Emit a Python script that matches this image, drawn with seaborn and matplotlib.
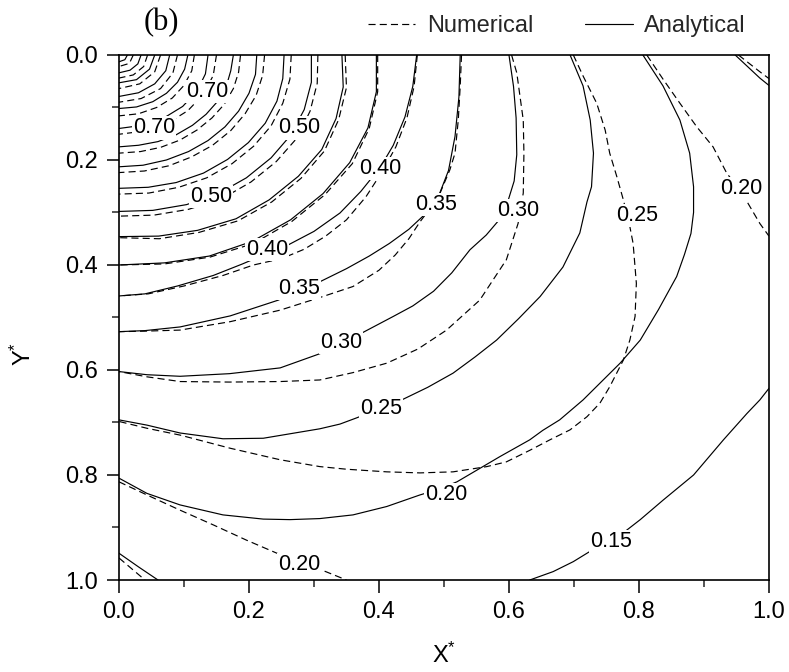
import matplotlib
matplotlib.use("Agg")
import matplotlib.pyplot as plt
from matplotlib.lines import Line2D
from matplotlib.ticker import MultipleLocator, FormatStrFormatter
import seaborn as sns

# ---------------------------------------------------------------
# Isolines of the dimensionless field over X*, Y* (Y* grows downward)
# Analytical solution (solid lines)
# ---------------------------------------------------------------
ana_95_x = [0.013, 0.009, 0.0]
ana_95_y = [0.0, 0.009, 0.013]
ana_90_x = [0.034, 0.029, 0.017, 0.0]
ana_90_y = [0.0, 0.017, 0.029, 0.034]
ana_85_x = [0.055, 0.047, 0.027, 0.0]
ana_85_y = [0.0, 0.027, 0.047, 0.053]
ana_80_x = [0.078, 0.072, 0.055, 0.030, 0.0]
ana_80_y = [0.0, 0.030, 0.055, 0.072, 0.079]
ana_75_x = [0.106, 0.101, 0.090, 0.073, 0.052, 0.027, 0.0]
ana_75_y = [0.0, 0.027, 0.052, 0.073, 0.089, 0.099, 0.102]
ana_70_x = [0.137, 0.133, 0.120, 0.098, 0.069, 0.036, 0.0]
ana_70_y = [0.0, 0.036, 0.069, 0.098, 0.120, 0.134, 0.140]
ana_65_x = [0.176, 0.172, 0.165, 0.152, 0.134, 0.113, 0.088, 0.060, 0.030, 0.0]
ana_65_y = [0.0, 0.030, 0.060, 0.088, 0.113, 0.134, 0.152, 0.165, 0.172, 0.175]
ana_60_x = [0.212, 0.210, 0.200, 0.184, 0.163, 0.137, 0.107, 0.073, 0.037, 0.0]
ana_60_y = [0.0, 0.037, 0.073, 0.107, 0.137, 0.163, 0.184, 0.200, 0.210, 0.213]
ana_55_x = [0.254, 0.252, 0.243, 0.225, 0.199, 0.167, 0.130, 0.088, 0.045, 0.0]
ana_55_y = [0.0, 0.045, 0.088, 0.130, 0.167, 0.199, 0.225, 0.243, 0.252, 0.254]
ana_50_x = [0.296, 0.296, 0.285, 0.264, 0.234, 0.196, 0.153, 0.104, 0.052, 0.0]
ana_50_y = [0.0, 0.052, 0.104, 0.153, 0.196, 0.234, 0.264, 0.285, 0.296, 0.298]
ana_47_x = [0.343, 0.345, 0.334, 0.312, 0.276, 0.231, 0.180, 0.121, 0.061, 0.0]
ana_47_y = [0.0, 0.061, 0.121, 0.180, 0.231, 0.276, 0.312, 0.334, 0.345, 0.346]
ana_43_x = [0.396, 0.396, 0.383, 0.355, 0.314, 0.264, 0.205, 0.139, 0.070, 0.0]
ana_43_y = [0.0, 0.070, 0.139, 0.205, 0.264, 0.314, 0.355, 0.383, 0.396, 0.400]
ana_40_x = [0.458, 0.452, 0.440, 0.422, 0.402, 0.372, 0.340, 0.300, 0.260,
            0.228, 0.190, 0.145, 0.090, 0.040, 0.0]
ana_40_y = [0.0, 0.060, 0.118, 0.172, 0.214, 0.260, 0.301, 0.336, 0.362,
            0.378, 0.398, 0.420, 0.440, 0.455, 0.459]
ana_35_x = [0.525, 0.523, 0.517, 0.507, 0.492, 0.472, 0.446, 0.416, 0.385,
            0.350, 0.309, 0.277, 0.245, 0.171, 0.094, 0.040, 0.0]
ana_35_y = [0.0, 0.080, 0.155, 0.220, 0.268, 0.302, 0.332, 0.359, 0.383,
            0.407, 0.432, 0.448, 0.467, 0.497, 0.518, 0.525, 0.527]
ana_30_x = [0.600, 0.607, 0.611, 0.612, 0.608, 0.598, 0.585, 0.565, 0.540,
            0.512, 0.484, 0.452, 0.422, 0.373, 0.342, 0.309, 0.248, 0.170,
            0.094, 0.043, 0.0]
ana_30_y = [0.0, 0.060, 0.120, 0.190, 0.240, 0.280, 0.314, 0.343, 0.371,
            0.415, 0.450, 0.478, 0.498, 0.530, 0.547, 0.569, 0.596, 0.607,
            0.612, 0.609, 0.603]
ana_25_x = [0.694, 0.714, 0.725, 0.730, 0.727, 0.720, 0.709, 0.683, 0.648,
            0.615, 0.581, 0.548, 0.514, 0.475, 0.435, 0.403, 0.366, 0.340,
            0.309, 0.222, 0.160, 0.094, 0.043, 0.0]
ana_25_y = [0.0, 0.059, 0.124, 0.187, 0.251, 0.280, 0.339, 0.404, 0.460,
            0.502, 0.543, 0.575, 0.606, 0.633, 0.657, 0.673, 0.691, 0.703,
            0.712, 0.730, 0.731, 0.720, 0.705, 0.695]
ana_20_x = [0.806, 0.837, 0.863, 0.878, 0.884, 0.884, 0.880, 0.870, 0.858,
            0.830, 0.802, 0.771, 0.714, 0.678, 0.652, 0.632, 0.586, 0.520,
            0.490, 0.463, 0.412, 0.360, 0.309, 0.263, 0.222, 0.160, 0.094,
            0.043, 0.0]
ana_20_y = [0.0, 0.059, 0.124, 0.187, 0.251, 0.300, 0.340, 0.380, 0.422,
            0.485, 0.543, 0.587, 0.657, 0.695, 0.715, 0.733, 0.765, 0.813,
            0.828, 0.838, 0.860, 0.876, 0.883, 0.885, 0.884, 0.876, 0.857,
            0.835, 0.806]
ana_15_x = [0.632, 0.668, 0.699, 0.724, 0.750, 0.776, 0.802, 0.837, 0.884,
            0.930, 0.966, 0.986, 1.0]
ana_15_y = [1.0, 0.984, 0.965, 0.946, 0.930, 0.910, 0.885, 0.848, 0.800,
            0.733, 0.683, 0.657, 0.635]
ana_15tr_x = [0.948, 0.986, 1.0]
ana_15tr_y = [0.0, 0.044, 0.058]
ana_15bl_x = [0.0, 0.030, 0.060]
ana_15bl_y = [0.949, 0.975, 1.0]

# ---------------------------------------------------------------
# Numerical solution (dashed lines)
# ---------------------------------------------------------------
num_95_x = [0.022, 0.016, 0.0]
num_95_y = [0.0, 0.016, 0.022]
num_90_x = [0.044, 0.038, 0.022, 0.0]
num_90_y = [0.0, 0.022, 0.038, 0.044]
num_85_x = [0.064, 0.055, 0.032, 0.0]
num_85_y = [0.0, 0.032, 0.055, 0.064]
num_80_x = [0.090, 0.083, 0.064, 0.034, 0.0]
num_80_y = [0.0, 0.034, 0.064, 0.083, 0.090]
num_75_x = [0.116, 0.112, 0.100, 0.082, 0.058, 0.030, 0.0]
num_75_y = [0.0, 0.030, 0.058, 0.082, 0.100, 0.112, 0.116]
num_70_x = [0.150, 0.145, 0.130, 0.106, 0.075, 0.039, 0.0]
num_70_y = [0.0, 0.039, 0.075, 0.106, 0.130, 0.145, 0.151]
num_65_x = [0.187, 0.184, 0.176, 0.162, 0.143, 0.120, 0.094, 0.064, 0.033, 0.0]
num_65_y = [0.0, 0.033, 0.064, 0.094, 0.120, 0.143, 0.162, 0.176, 0.184, 0.187]
num_60_x = [0.224, 0.221, 0.211, 0.194, 0.172, 0.144, 0.112, 0.077, 0.039, 0.0]
num_60_y = [0.0, 0.039, 0.077, 0.112, 0.144, 0.172, 0.194, 0.211, 0.221, 0.224]
num_55_x = [0.265, 0.263, 0.252, 0.234, 0.207, 0.174, 0.135, 0.092, 0.046, 0.0]
num_55_y = [0.0, 0.046, 0.092, 0.135, 0.174, 0.207, 0.234, 0.252, 0.263, 0.265]
num_50_x = [0.306, 0.305, 0.294, 0.274, 0.242, 0.203, 0.158, 0.107, 0.054, 0.0]
num_50_y = [0.0, 0.054, 0.107, 0.158, 0.203, 0.242, 0.274, 0.294, 0.305, 0.307]
num_47_x = [0.348, 0.350, 0.338, 0.316, 0.280, 0.235, 0.183, 0.123, 0.062, 0.0]
num_47_y = [0.0, 0.062, 0.123, 0.183, 0.235, 0.280, 0.316, 0.338, 0.350, 0.348]
num_43_x = [0.398, 0.398, 0.385, 0.359, 0.317, 0.266, 0.207, 0.140, 0.070, 0.0]
num_43_y = [0.0, 0.070, 0.140, 0.207, 0.266, 0.317, 0.359, 0.385, 0.398, 0.400]
num_40_x = [0.459, 0.454, 0.443, 0.426, 0.405, 0.380, 0.350, 0.318, 0.285,
            0.250, 0.207, 0.160, 0.100, 0.045, 0.0]
num_40_y = [0.0, 0.060, 0.120, 0.175, 0.222, 0.270, 0.314, 0.345, 0.370,
            0.388, 0.400, 0.420, 0.440, 0.455, 0.459]
num_35_x = [0.527, 0.525, 0.522, 0.517, 0.509, 0.494, 0.480, 0.463, 0.446,
            0.425, 0.400, 0.360, 0.309, 0.248, 0.171, 0.094, 0.040, 0.0]
num_35_y = [0.0, 0.059, 0.124, 0.187, 0.219, 0.263, 0.290, 0.318, 0.350,
            0.381, 0.410, 0.441, 0.462, 0.486, 0.508, 0.524, 0.526, 0.527]
num_30_x = [0.604, 0.612, 0.617, 0.622, 0.623, 0.622, 0.614, 0.596, 0.555,
            0.504, 0.460, 0.412, 0.360, 0.309, 0.248, 0.170, 0.094, 0.043, 0.0]
num_30_y = [0.0, 0.034, 0.079, 0.124, 0.187, 0.263, 0.321, 0.390, 0.467,
            0.524, 0.560, 0.587, 0.605, 0.619, 0.622, 0.623, 0.622, 0.613, 0.603]
num_25_x = [0.699, 0.714, 0.735, 0.748, 0.755, 0.766, 0.776, 0.786, 0.791,
            0.796, 0.794, 0.786, 0.776, 0.755, 0.740, 0.720, 0.694, 0.663,
            0.632, 0.596, 0.566, 0.514, 0.463, 0.412, 0.350, 0.309, 0.248,
            0.171, 0.094, 0.043, 0.0]
num_25_y = [0.0, 0.040, 0.092, 0.143, 0.187, 0.232, 0.276, 0.327, 0.359,
            0.435, 0.498, 0.543, 0.581, 0.632, 0.663, 0.689, 0.714, 0.733,
            0.753, 0.775, 0.784, 0.794, 0.796, 0.794, 0.789, 0.784, 0.771,
            0.749, 0.724, 0.711, 0.698]
num_20a_x = [0.812, 0.837, 0.863, 0.889, 0.914, 0.935, 0.958, 0.986, 1.0]
num_20a_y = [0.0, 0.046, 0.092, 0.137, 0.175, 0.225, 0.262, 0.321, 0.345]
num_20b_x = [0.0, 0.043, 0.094, 0.145, 0.196, 0.243, 0.278, 0.312, 0.350]
num_20b_y = [0.813, 0.838, 0.867, 0.895, 0.924, 0.949, 0.966, 0.981, 1.0]
num_15tr_x = [0.953, 0.986, 1.0]
num_15tr_y = [0.0, 0.032, 0.045]
num_15bl_x = [0.0, 0.020, 0.040]
num_15bl_y = [0.958, 0.979, 1.0]

# Inline contour labels: value and centre position
label_value = [0.70, 0.70, 0.50, 0.50, 0.40, 0.40, 0.35, 0.35,
               0.30, 0.30, 0.25, 0.25, 0.20, 0.20, 0.20, 0.15]
label_x = [0.136, 0.054, 0.277, 0.142, 0.402, 0.228, 0.488, 0.277,
           0.614, 0.342, 0.797, 0.403, 0.958, 0.503, 0.278, 0.757]
label_y = [0.070, 0.139, 0.139, 0.269, 0.216, 0.371, 0.284, 0.444,
           0.297, 0.547, 0.305, 0.673, 0.254, 0.838, 0.970, 0.927]

tick_values = [0.0, 0.2, 0.4, 0.6, 0.8, 1.0]

analytical = [
    (0.95, ana_95_x, ana_95_y), (0.90, ana_90_x, ana_90_y),
    (0.85, ana_85_x, ana_85_y), (0.80, ana_80_x, ana_80_y),
    (0.75, ana_75_x, ana_75_y), (0.70, ana_70_x, ana_70_y),
    (0.65, ana_65_x, ana_65_y), (0.60, ana_60_x, ana_60_y),
    (0.55, ana_55_x, ana_55_y), (0.50, ana_50_x, ana_50_y),
    (0.47, ana_47_x, ana_47_y), (0.43, ana_43_x, ana_43_y),
    (0.40, ana_40_x, ana_40_y), (0.35, ana_35_x, ana_35_y),
    (0.30, ana_30_x, ana_30_y), (0.25, ana_25_x, ana_25_y),
    (0.20, ana_20_x, ana_20_y), (0.15, ana_15_x, ana_15_y),
    (0.15, ana_15tr_x, ana_15tr_y), (0.15, ana_15bl_x, ana_15bl_y),
]
numerical = [
    (0.95, num_95_x, num_95_y), (0.90, num_90_x, num_90_y),
    (0.85, num_85_x, num_85_y), (0.80, num_80_x, num_80_y),
    (0.75, num_75_x, num_75_y), (0.70, num_70_x, num_70_y),
    (0.65, num_65_x, num_65_y), (0.60, num_60_x, num_60_y),
    (0.55, num_55_x, num_55_y), (0.50, num_50_x, num_50_y),
    (0.47, num_47_x, num_47_y), (0.43, num_43_x, num_43_y),
    (0.40, num_40_x, num_40_y), (0.35, num_35_x, num_35_y),
    (0.30, num_30_x, num_30_y), (0.25, num_25_x, num_25_y),
    (0.20, num_20a_x, num_20a_y), (0.20, num_20b_x, num_20b_y),
    (0.15, num_15tr_x, num_15tr_y), (0.15, num_15bl_x, num_15bl_y),
]

# ---------------------------------------------------------------
# Styling
# ---------------------------------------------------------------
sns.set_style("ticks")
plt.rcParams["font.family"] = ["Liberation Sans", "DejaVu Sans"]
plt.rcParams["mathtext.default"] = "regular"

LW = 0.85
DASH = (0, (6, 3.5))

fig = plt.figure(figsize=(7.89, 6.72), dpi=100)
ax = fig.add_axes([0.1508, 0.1369, 0.8238, 0.7813])

for level, xs, ys in analytical:
    sns.lineplot(x=xs, y=ys, sort=False, estimator=None, color="black",
                 linewidth=LW, ax=ax)
for level, xs, ys in numerical:
    sns.lineplot(x=xs, y=ys, sort=False, estimator=None, color="black",
                 linewidth=LW, linestyle=DASH, ax=ax)

for val, lx, ly in zip(label_value, label_x, label_y):
    ax.text(lx, ly, f"{val:.2f}", ha="center", va="center", fontsize=15.5,
            color="black", zorder=5,
            bbox=dict(boxstyle="square,pad=0.05", fc="white", ec="none"))

ax.set_xlim(0, 1)
ax.set_ylim(1, 0)
ax.set_xticks(tick_values)
ax.set_yticks(tick_values)
ax.xaxis.set_minor_locator(MultipleLocator(0.1))
ax.yaxis.set_minor_locator(MultipleLocator(0.1))
ax.xaxis.set_major_formatter(FormatStrFormatter("%.1f"))
ax.yaxis.set_major_formatter(FormatStrFormatter("%.1f"))
ax.tick_params(axis="both", which="major", direction="out", length=9,
               width=1.1, labelsize=17, pad=6, colors="black",
               top=False, right=False)
ax.tick_params(axis="both", which="minor", direction="out", length=5,
               width=1.1, top=False, right=False)
for sp in ax.spines.values():
    sp.set_visible(True)
    sp.set_linewidth(1.2)
    sp.set_color("black")

ax.set_xlabel("X$^{*}$", fontsize=17, color="black")
ax.set_ylabel("Y$^{*}$", fontsize=17, color="black")
ax.xaxis.set_label_coords(0.5, -0.12)
ax.yaxis.set_label_coords(-0.128, 0.43)

handles = [
    Line2D([], [], color="black", linewidth=LW, linestyle=DASH),
    Line2D([], [], color="black", linewidth=LW),
]
fig.legend(handles, ["Numerical", "Analytical"], loc="center",
           bbox_to_anchor=(0.706, 0.961), ncol=2, frameon=False,
           fontsize=17, handlelength=2.0, handletextpad=0.5,
           columnspacing=2.2, borderaxespad=0.0)

fig.text(0.205, 0.967, "(b)", ha="center", va="center", fontsize=22,
         family=["Liberation Serif", "DejaVu Serif"], color="black")

fig.savefig("out.png", dpi=100, facecolor="white")
